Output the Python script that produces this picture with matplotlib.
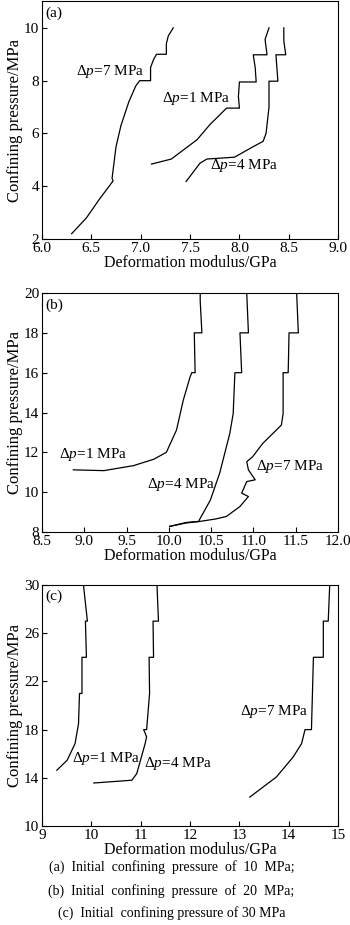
import matplotlib
matplotlib.use("Agg")
import matplotlib.pyplot as plt

plt.rcParams['font.family'] = ['Liberation Serif', 'DejaVu Serif']
plt.rcParams['mathtext.fontset'] = 'custom'
plt.rcParams['mathtext.rm'] = 'Liberation Serif'
plt.rcParams['mathtext.it'] = 'Liberation Serif:italic'

# (a) initial confining pressure 10 MPa
a7_x = [6.30, 6.45, 6.58, 6.68, 6.72, 6.71, 6.72, 6.75, 6.80, 6.88, 6.95, 6.99, 7.10, 7.10, 7.13, 7.16, 7.26, 7.26, 7.28, 7.33]
a7_y = [2.2, 2.8, 3.5, 4.0, 4.2, 4.3, 4.6, 5.5, 6.3, 7.2, 7.8, 8.0, 8.0, 8.5, 8.8, 9.0, 9.0, 9.4, 9.7, 10.0]
a1_x = [7.11, 7.31, 7.57, 7.70, 7.87, 8.00, 7.99, 8.00, 8.17, 8.16, 8.14, 8.28, 8.26, 8.30]
a1_y = [4.84, 5.03, 5.76, 6.33, 6.96, 6.96, 7.4, 7.95, 7.95, 8.5, 8.98, 8.98, 9.56, 10.0]
a4_x = [7.46, 7.60, 7.67, 7.95, 8.14, 8.24, 8.27, 8.30, 8.30, 8.39, 8.37, 8.47, 8.45, 8.45]
a4_y = [4.18, 4.87, 5.03, 5.10, 5.50, 5.70, 6.00, 7.00, 7.98, 7.98, 8.98, 8.98, 9.5, 10.0]

# (b) initial confining pressure 20 MPa
b1_x = [8.87, 9.23, 9.58, 9.82, 9.97, 10.09, 10.17, 10.25, 10.27, 10.31, 10.30, 10.39, 10.37, 10.37]
b1_y = [11.12, 11.08, 11.33, 11.65, 12.0, 13.12, 14.62, 15.78, 16.0, 16.0, 18.0, 18.0, 19.6, 20.0]
b4_x = [10.01, 10.21, 10.35, 10.49, 10.60, 10.72, 10.76, 10.78, 10.86, 10.84, 10.94, 10.92]
b4_y = [8.28, 8.48, 8.53, 9.60, 10.95, 12.95, 13.95, 16.0, 16.0, 18.0, 18.0, 20.0]
b7_x = [10.01, 10.20, 10.35, 10.55, 10.68, 10.84, 10.94, 10.86, 10.92, 11.02, 10.94, 10.92, 10.99,
        11.11, 11.27, 11.33, 11.35, 11.35, 11.41, 11.42, 11.53, 11.51]
b7_y = [8.28, 8.45, 8.52, 8.65, 8.78, 9.28, 9.78, 9.95, 10.53, 10.62, 11.12, 11.53, 11.78,
        12.45, 13.12, 13.37, 13.95, 16.0, 16.0, 18.0, 18.0, 20.0]

# (c) initial confining pressure 30 MPa
c1_x = [9.30, 9.51, 9.67, 9.74, 9.76, 9.81, 9.81, 9.90, 9.88, 9.92, 9.84]
c1_y = [14.63, 15.46, 16.84, 18.5, 21.0, 21.0, 24.0, 24.0, 27.0, 27.0, 30.0]
c4_x = [10.05, 10.82, 10.92, 11.09, 11.12, 11.06, 11.12, 11.18, 11.17, 11.26, 11.25, 11.36, 11.33]
c4_y = [13.57, 13.80, 14.35, 16.84, 17.4, 18.0, 18.0, 21.0, 24.0, 24.0, 27.0, 27.0, 30.0]
c7_x = [13.21, 13.75, 14.09, 14.26, 14.33, 14.46, 14.50, 14.70, 14.70, 14.80, 14.83]
c7_y = [12.4, 14.07, 15.73, 16.84, 18.0, 18.0, 24.0, 24.0, 27.0, 27.0, 30.0]

panels = [
    dict(tag="(a)", xlim=(6.0, 9.0), ylim=(2, 11),
         xticks=[6.0, 6.5, 7.0, 7.5, 8.0, 8.5, 9.0], xfmt="{:.1f}", yticks=[2, 4, 6, 8, 10],
         curves=[(a7_x, a7_y), (a1_x, a1_y), (a4_x, a4_y)],
         labels=[("7", 6.34, 8.35), ("1", 7.22, 7.32), ("4", 7.70, 4.77)],
         tagpos=(6.03, 10.54), rect=[0.12, 0.7416, 0.846, 0.2568]),
    dict(tag="(b)", xlim=(8.5, 12.0), ylim=(8, 20),
         xticks=[8.5, 9.0, 9.5, 10.0, 10.5, 11.0, 11.5, 12.0], xfmt="{:.1f}",
         yticks=[8, 10, 12, 14, 16, 18, 20],
         curves=[(b1_x, b1_y), (b4_x, b4_y), (b7_x, b7_y)],
         labels=[("1", 8.70, 11.87), ("4", 9.74, 10.4), ("7", 11.03, 11.28)],
         tagpos=(8.54, 19.4), rect=[0.12, 0.4249, 0.846, 0.2583]),
    dict(tag="(c)", xlim=(9, 15), ylim=(10, 30),
         xticks=[9, 10, 11, 12, 13, 14, 15], xfmt="{:d}", yticks=[10, 14, 18, 22, 26, 30],
         curves=[(c1_x, c1_y), (c4_x, c4_y), (c7_x, c7_y)],
         labels=[("1", 9.61, 15.6), ("4", 11.06, 15.18), ("7", 13.01, 19.47)],
         tagpos=(9.07, 29.1), rect=[0.12, 0.107, 0.846, 0.2606]),
]

fig = plt.figure(figsize=(3.5, 9.25), dpi=100)

for p in panels:
    ax = fig.add_axes(p["rect"])
    for xs, ys in p["curves"]:
        ax.plot(xs, ys, color="black", lw=0.9)
    for dp, x, y in p["labels"]:
        ax.text(x, y, "Δ$p$=" + dp + " MPa", fontsize=11, ha="left", va="center")
    ax.text(p["tagpos"][0], p["tagpos"][1], p["tag"], fontsize=11, ha="left", va="center")
    ax.set_xlim(*p["xlim"])
    ax.set_ylim(*p["ylim"])
    ax.set_xticks(p["xticks"])
    ax.set_xticklabels([p["xfmt"].format(t) for t in p["xticks"]])
    ax.set_yticks(p["yticks"])
    ax.tick_params(direction="in", length=3.5, width=0.8, labelsize=11, pad=2)
    ax.set_xlabel("Deformation modulus/GPa", fontsize=11.5, labelpad=0)
    ax.set_ylabel("Confining pressure/MPa", fontsize=12, labelpad=1)
    for s in ax.spines.values():
        s.set_linewidth(0.8)

captions = ["(a)  Initial  confining  pressure  of  10  MPa;",
            "(b)  Initial  confining  pressure  of  20  MPa;",
            "(c)  Initial  confining pressure of 30 MPa"]
cap_y = [867, 891, 913]
for txt, y in zip(captions, cap_y):
    fig.text(0.49, 1 - y / 925, txt, fontsize=10, ha="center", va="center")

fig.savefig("out.png", dpi=100)
